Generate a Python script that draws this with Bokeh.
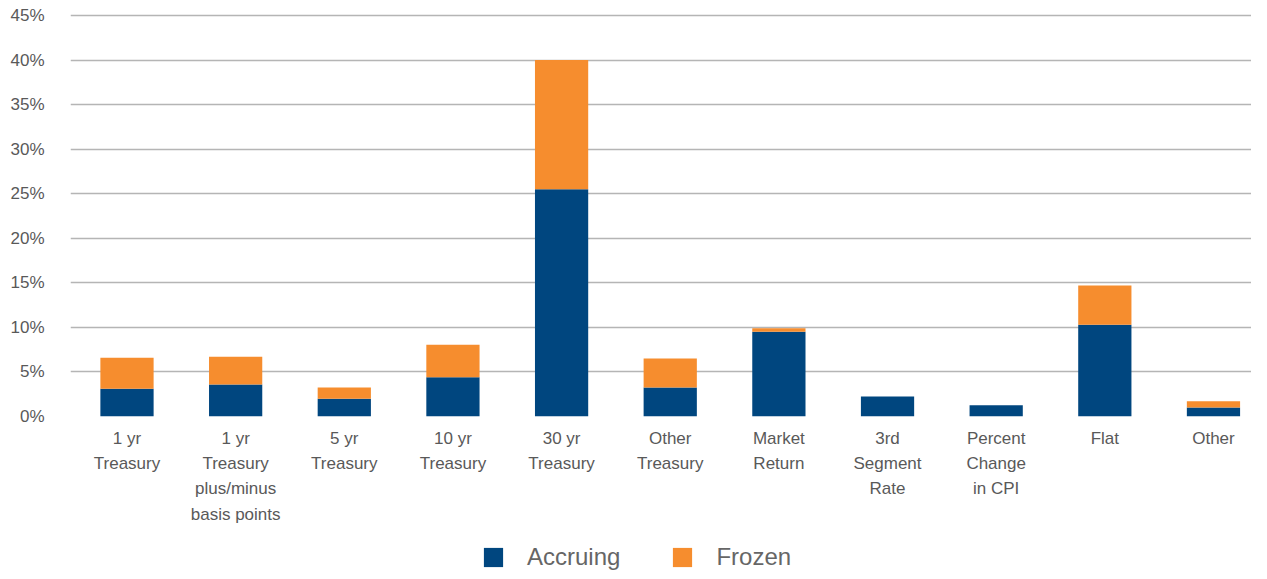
from bokeh.plotting import figure
from bokeh.layouts import column
from bokeh.models import (ColumnDataSource, Range1d, FixedTicker, PrintfTickFormatter,
                          Legend, LegendItem)
from bokeh.embed import file_html
from bokeh.resources import INLINE

categories = ["1 yr\nTreasury", "1 yr\nTreasury\nplus/minus\nbasis points", "5 yr\nTreasury",
              "10 yr\nTreasury", "30 yr\nTreasury", "Other\nTreasury", "Market\nReturn",
              "3rd\nSegment\nRate", "Percent\nChange\nin CPI", "Flat", "Other"]
accruing = [3.1, 3.6, 2.0, 4.4, 25.5, 3.25, 9.5, 2.25, 1.25, 10.3, 1.0]
frozen = [3.5, 3.1, 1.25, 3.65, 14.5, 3.25, 0.4, 0.0, 0.0, 4.4, 0.7]
y_ticks = [0, 5, 10, 15, 20, 25, 30, 35, 40, 45]
series = ["Accruing", "Frozen"]

BLUE = "#00467F"
ORANGE = "#F68D2E"
FONT = "Liberation Sans"

xs = list(range(len(categories)))
source = ColumnDataSource(dict(x=xs, accruing=accruing, frozen=frozen))

# main chart
p = figure(width=1251, height=540, output_backend="svg", toolbar_location=None,
           x_range=Range1d(-0.52, 10.35), y_range=Range1d(0, 45.22),
           min_border_left=70, min_border_right=0, min_border_top=13,
           min_border_bottom=124)
p.outline_line_color = None
p.background_fill_color = "white"
p.border_fill_color = "white"

p.vbar_stack(["accruing", "frozen"], x="x", width=0.49, color=[BLUE, ORANGE],
             line_color=None, source=source)

p.xgrid.grid_line_color = None
p.ygrid.grid_line_color = "#B5B5B5"
p.ygrid.grid_line_width = 1.3

p.yaxis.ticker = FixedTicker(ticks=y_ticks)
p.yaxis.formatter = PrintfTickFormatter(format="%d%%")
p.yaxis.axis_line_color = None
p.yaxis.major_tick_line_color = None
p.yaxis.minor_tick_line_color = None
p.yaxis.major_label_text_font = FONT
p.yaxis.major_label_text_font_size = "17px"
p.yaxis.major_label_text_color = "#595959"
p.yaxis.major_label_standoff = 20

p.xaxis.ticker = FixedTicker(ticks=xs)
p.xaxis.major_label_overrides = {i: c for i, c in enumerate(categories)}
p.xaxis.axis_line_color = None
p.xaxis.major_tick_line_color = None
p.xaxis.minor_tick_line_color = None
p.xaxis.major_label_text_font = FONT
p.xaxis.major_label_text_font_size = "17px"
p.xaxis.major_label_text_color = "#595959"
p.xaxis.major_label_text_line_height = 1.34
p.xaxis.major_label_standoff = 6

# legend strip
p2 = figure(width=1251, height=31, output_backend="svg", toolbar_location=None,
            x_range=Range1d(0, 1), y_range=Range1d(0, 1),
            x_axis_location=None, y_axis_location=None,
            min_border_left=0, min_border_right=0, min_border_top=0, min_border_bottom=0)
p2.outline_line_color = None
p2.xgrid.visible = False
p2.ygrid.visible = False
r2 = p2.vbar_stack(["accruing", "frozen"], x="x", width=0.49, color=[BLUE, ORANGE],
                   line_color=None, source=source, visible=False)

legend = Legend(items=[LegendItem(label=series[0], renderers=[r2[0]]),
                       LegendItem(label=series[1], renderers=[r2[1]])],
                orientation="horizontal", location=(411, 0))
legend.label_text_font = FONT
legend.label_text_font_size = "24px"
legend.label_text_color = "#666666"
legend.glyph_width = 24
legend.glyph_height = 24
legend.label_standoff = 22
legend.spacing = 50
legend.border_line_color = None
legend.background_fill_alpha = 0
legend.margin = 0
legend.padding = 0
p2.add_layout(legend)

layout = column(p, p2, spacing=0)
open("out.html", "w").write(file_html(layout, INLINE))
